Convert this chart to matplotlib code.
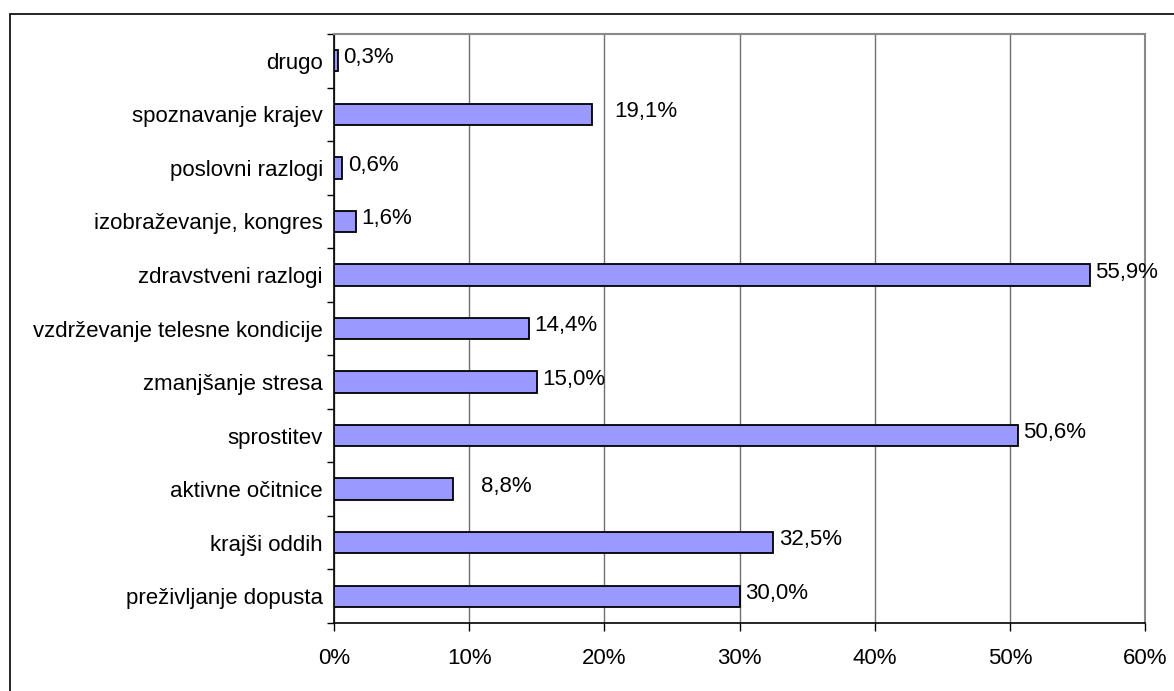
import matplotlib.pyplot as plt
from matplotlib.patches import Rectangle

plt.rcParams["font.family"] = ["Liberation Sans", "DejaVu Sans"]

categories = [
    "preživljanje dopusta",
    "krajši oddih",
    "aktivne očitnice",
    "sprostitev",
    "zmanjšanje stresa",
    "vzdrževanje telesne kondicije",
    "zdravstveni razlogi",
    "izobraževanje, kongres",
    "poslovni razlogi",
    "spoznavanje krajev",
    "drugo",
]
shares = [30.0, 32.5, 8.8, 50.6, 15.0, 14.4, 55.9, 1.6, 0.6, 19.1, 0.3]
value_labels = ["30,0%", "32,5%", "8,8%", "50,6%", "15,0%", "14,4%",
                "55,9%", "1,6%", "0,6%", "19,1%", "0,3%"]
x_ticks = [0, 10, 20, 30, 40, 50, 60]

# extra horizontal gap (points) for a few labels that sit further out
label_gap = [4, 4, 20, 4, 4, 4, 4, 4, 4, 16, 4]

FS = 16

fig = plt.figure(figsize=(11.74, 6.91), dpi=100)
ax = fig.add_axes([334 / 1174, 1 - 623 / 691, (1145 - 334) / 1174, (623 - 34) / 691])

# outer chart frame
fig.patches.append(Rectangle((10 / 1174, -0.1), 1.2, 1 - 14 / 691 + 0.1,
                             transform=fig.transFigure, fill=False,
                             edgecolor="black", linewidth=1.2))

y = range(len(categories))
ax.barh(y, shares, height=0.4, color="#9999FF", edgecolor="black",
        linewidth=1.3, zorder=3)

for i, (v, lab) in enumerate(zip(shares, value_labels)):
    ax.annotate(lab, (v, i), xytext=(label_gap[i], 2), textcoords="offset points",
                ha="left", va="center", fontsize=FS, zorder=4)

ax.set_xlim(0, 60)
ax.set_ylim(-0.5, len(categories) - 0.5)
ax.set_xticks(x_ticks)
ax.set_xticklabels([f"{t}%" for t in x_ticks], fontsize=FS)
ax.set_yticks(list(y))
ax.set_yticklabels(categories, fontsize=FS)
ax.set_yticks([i - 0.5 for i in range(len(categories) + 1)], minor=True)
ax.tick_params(axis="y", which="major", length=0, pad=8)
ax.tick_params(axis="y", which="minor", length=5, width=1, direction="out")
ax.tick_params(axis="x", length=6, width=1, direction="out", pad=12)

ax.xaxis.grid(True, color="#707070", linewidth=1, zorder=0)
ax.set_axisbelow(True)
for side in ["top", "right"]:
    ax.spines[side].set_color("#888888")
    ax.spines[side].set_linewidth(1.5)
for side in ["left", "bottom"]:
    ax.spines[side].set_color("black")
    ax.spines[side].set_linewidth(1.2)

fig.savefig("out.png", dpi=100)
